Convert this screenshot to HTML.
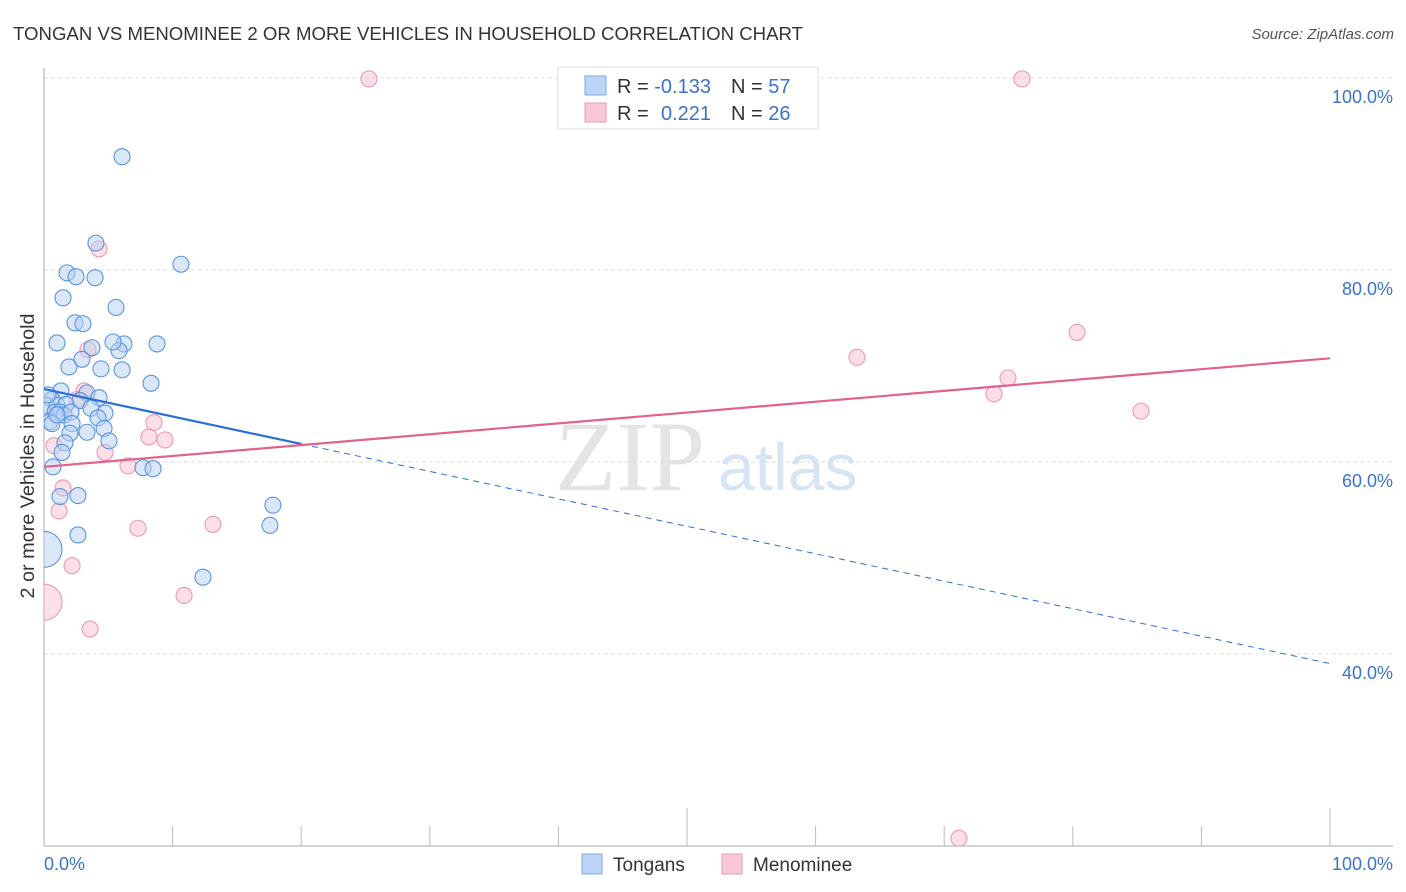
<!DOCTYPE html>
<html><head><meta charset="utf-8"><style>
body{margin:0;background:#fff;font-family:"Liberation Sans",sans-serif;}
svg{display:block}
</style></head><body>
<svg id="chart" width="1406" height="892">
<defs><clipPath id="plotclip"><rect x="44" y="60" width="1360" height="786"/></clipPath></defs>
<text x="13" y="40" font-size="18" fill="#333" textLength="790" lengthAdjust="spacingAndGlyphs">TONGAN VS MENOMINEE 2 OR MORE VEHICLES IN HOUSEHOLD CORRELATION CHART</text>
<text x="1394" y="39" font-size="15" fill="#555" font-style="italic" text-anchor="end">Source: ZipAtlas.com</text>
<text x="555" y="490" font-size="100" fill="#e4e4e4" font-family="Liberation Serif,serif">ZIP</text>
<text x="718" y="490" font-size="66" fill="#d6e4f6">atlas</text>
<text transform="translate(34,456) rotate(-90)" font-size="19" fill="#333" text-anchor="middle" textLength="285" lengthAdjust="spacingAndGlyphs">2 or more Vehicles in Household</text>
<g id="grid"></g><g id="marks" clip-path="url(#plotclip)"></g>
<g>
<rect x="558" y="67" width="260" height="62" fill="#fff" stroke="#ddd"/>
<rect x="585" y="76" width="21" height="19" fill="#bcd4f5" stroke="#7fa8e6"/>
<rect x="585" y="103" width="21" height="19" fill="#f9c8d6" stroke="#ee9ab3"/>
<text x="617" y="93" font-size="20" fill="#333">R = <tspan fill="#3a73c9">-0.133</tspan><tspan x="731">N = </tspan><tspan fill="#3a73c9">57</tspan></text>
<text x="617" y="120" font-size="20" fill="#333">R = <tspan x="661" fill="#3a73c9">0.221</tspan><tspan x="731">N = </tspan><tspan fill="#3a73c9">26</tspan></text>
</g>
<g>
<rect x="582" y="854" width="20" height="20" fill="#bcd4f5" stroke="#7fa8e6"/>
<text x="613" y="871" font-size="19" fill="#333">Tongans</text>
<rect x="722" y="854" width="20" height="20" fill="#f9c8d6" stroke="#ee9ab3"/>
<text x="753" y="871" font-size="19" fill="#333">Menominee</text>
</g>
<text x="44" y="870" font-size="18" fill="#3a73c9">0.0%</text>
<text x="1393" y="870" font-size="18" fill="#3a73c9" text-anchor="end">100.0%</text>
</svg>
<script>
const yTicks=[100,80,60,40];
const yTickLabels=["100.0%","80.0%","60.0%","40.0%"];
const blueX=[6.07,4.04,10.65,1.79,2.49,3.97,1.48,5.6,2.41,3.03,1.01,3.73,6.22,8.79,5.83,2.95,1.94,4.43,6.07,8.32,1.32,3.34,0.62,4.28,2.8,0.16,1.01,1.71,3.65,0.86,1.24,1.56,2.1,4.74,4.2,0.47,2.18,3.34,2.02,4.67,5.05,1.63,1.4,0.7,7.7,8.48,1.24,2.64,17.8,17.57,2.64,0,12.36,0.62,1.01,0.31,5.37];
const blueY=[91.8,82.8,80.6,79.7,79.3,79.2,77.1,76.1,74.5,74.4,72.4,71.9,72.3,72.3,71.6,70.7,69.9,69.7,69.6,68.2,67.4,67.2,66.5,66.7,66.4,65.9,65.9,66.0,65.6,65.2,65.2,64.9,65.2,65.1,64.6,64.2,64.0,63.1,63.0,63.5,62.2,62.0,61.0,59.5,59.4,59.3,56.4,56.5,55.5,53.4,52.4,50.9,48.0,64.0,64.9,67.0,72.5];
const blueBig=[51];
const pinkX=[25.27,76.05,4.28,3.42,3.11,2.57,8.55,8.16,9.41,0.78,4.74,6.53,1.48,1.17,7.31,13.14,2.18,0,10.89,3.58,63.22,80.33,74.96,73.87,85.3,71.15];
const pinkY=[99.9,99.9,82.2,71.7,67.4,66.5,64.1,62.6,62.3,61.7,61.0,59.6,57.3,54.9,53.1,53.5,49.2,45.4,46.1,42.6,70.9,73.5,68.75,67.1,65.3,20.8];
const pinkBig=[17];
const blueTrend=[67.6,39.0];
const pinkTrend=[59.5,70.8];
const NS="http://www.w3.org/2000/svg";
const sx=v=>44+v*12.86, sy=v=>78+(100-v)*9.6;
const grid=document.getElementById('grid'), marks=document.getElementById('marks');
function mk(tag,attrs,parent){const e=document.createElementNS(NS,tag);for(const k in attrs)e.setAttribute(k,attrs[k]);parent.appendChild(e);return e;}
yTicks.forEach((t,i)=>{
 const l=mk('line',{x1:44,x2:1393,y1:sy(t),y2:sy(t),stroke:'#ddd','stroke-dasharray':'4,3'},grid);
 
 
 const tx=mk('text',{x:1393,y:sy(t)+25,'font-size':18,fill:'#3a73c9','text-anchor':'end'},grid);
 tx.textContent=yTickLabels[i];
 
 
});
const ax=mk('line',{x1:44,x2:44,y1:68,y2:846,stroke:'#aaa'},grid);


const bx=mk('line',{x1:44,x2:1393,y1:846,y2:846,stroke:'#aaa'},grid);


for(let i=1;i<=10;i++){
 const x=sx(i*10);const tk=mk('line',{x1:x,x2:x,y1:(i==5||i==10)?808:826,y2:846,stroke:'#bbb'},grid);
 
 
}
function pts(X,Y,big,fill,stroke,name){
 X.forEach((x,i)=>{
  const c=mk('circle',{cx:sx(x),cy:sy(Y[i]),r:big.includes(i)?18:8,fill:fill,'fill-opacity':0.5,stroke:stroke,'stroke-width':1.1},marks);
  
  
 });
}
pts(pinkX,pinkY,pinkBig,'#f9c0d0','#ee98b3','menominee-point');
pts(blueX,blueY,blueBig,'#b5cff3','#5a93e2','tongan-point');
const slope=(blueTrend[1]-blueTrend[0])/100;
const b1=mk('line',{x1:sx(0),y1:sy(blueTrend[0]),x2:sx(20),y2:sy(blueTrend[0]+slope*20),stroke:'#2a6fd6','stroke-width':2.2},marks);


const b2=mk('line',{x1:sx(20),y1:sy(blueTrend[0]+slope*20),x2:sx(100),y2:sy(blueTrend[1]),stroke:'#2a6fd6','stroke-width':1,'stroke-dasharray':'6,5'},marks);


const p1=mk('line',{x1:sx(0),y1:sy(pinkTrend[0]),x2:sx(100),y2:sy(pinkTrend[1]),stroke:'#e2628e','stroke-width':2.2},marks);


</script>
</body></html>
